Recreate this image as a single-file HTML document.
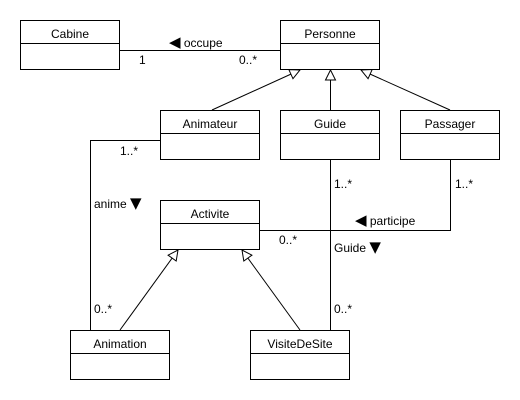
<!DOCTYPE html>
<html><head><meta charset="utf-8"><style>
html,body{margin:0;padding:0;background:#fff;width:520px;height:400px;overflow:hidden}
svg{display:block}
text{font-family:"Liberation Sans",Arial,sans-serif;font-size:12px;fill:#000}
.ar{font-family:"DejaVu Sans",sans-serif;font-size:15px}
</style></head><body>
<svg width="520" height="400" viewBox="0 0 520 400">
<defs>
<marker id="gen" viewBox="0 0 12 12" refX="11" refY="6" markerWidth="12" markerHeight="12" markerUnits="userSpaceOnUse" orient="auto">
<path d="M1,1 L11,6 L1,11 Z" fill="#fff" stroke="#000" stroke-width="1"/>
</marker>
</defs>
<g fill="#fff" stroke="#000" stroke-width="1">
<g><rect x="20.5" y="20.5" width="99" height="49"/><line x1="20.5" y1="43.5" x2="119.5" y2="43.5"/></g>
<g><rect x="280.5" y="20.5" width="99" height="49"/><line x1="280.5" y1="43.5" x2="379.5" y2="43.5"/></g>
<g><rect x="160.5" y="110.5" width="99" height="49"/><line x1="160.5" y1="133.5" x2="259.5" y2="133.5"/></g>
<g><rect x="280.5" y="110.5" width="99" height="49"/><line x1="280.5" y1="133.5" x2="379.5" y2="133.5"/></g>
<g><rect x="400.5" y="110.5" width="99" height="49"/><line x1="400.5" y1="133.5" x2="499.5" y2="133.5"/></g>
<g><rect x="160.5" y="200.5" width="99" height="49"/><line x1="160.5" y1="223.5" x2="259.5" y2="223.5"/></g>
<g><rect x="70.5" y="330.5" width="99" height="49"/><line x1="70.5" y1="353.5" x2="169.5" y2="353.5"/></g>
<g><rect x="250.5" y="330.5" width="99" height="49"/><line x1="250.5" y1="353.5" x2="349.5" y2="353.5"/></g>
</g>
<g fill="none" stroke="#000" stroke-width="1">
<line x1="119.5" y1="50.5" x2="280.5" y2="50.5"/>
<polyline points="160.5,140.5 90.5,140.5 90.5,330.5"/>
<line x1="330.5" y1="159.5" x2="330.5" y2="330.5"/>
<polyline points="450.5,159.5 450.5,230.5 259.5,230.5"/>
<line x1="212" y1="110" x2="300" y2="70" marker-end="url(#gen)"/>
<line x1="330.5" y1="110" x2="330.5" y2="70" marker-end="url(#gen)"/>
<line x1="450" y1="110" x2="361" y2="70" marker-end="url(#gen)"/>
<line x1="120" y1="330" x2="178" y2="250" marker-end="url(#gen)"/>
<line x1="300" y1="330" x2="242" y2="250" marker-end="url(#gen)"/>
</g>
<g text-anchor="middle">
<text x="70" y="38">Cabine</text>
<text x="330" y="38">Personne</text>
<text x="210" y="128">Animateur</text>
<text x="330" y="128">Guide</text>
<text x="450" y="128">Passager</text>
<text x="210" y="218">Activite</text>
<text x="120" y="348">Animation</text>
<text x="300" y="348">VisiteDeSite</text>
</g>
<text x="169" y="47"><tspan class="ar">◀</tspan> occupe</text>
<text x="139" y="64">1</text>
<text x="239" y="64">0..*</text>
<text x="120" y="155">1..*</text>
<text x="94" y="208">anime <tspan class="ar">▼</tspan></text>
<text x="94" y="313">0..*</text>
<text x="334" y="188">1..*</text>
<text x="455" y="188">1..*</text>
<text x="355" y="225"><tspan class="ar">◀</tspan> participe</text>
<text x="279" y="244">0..*</text>
<text x="334" y="252">Guide  <tspan class="ar">▼</tspan></text>
<text x="334" y="313">0..*</text>
</svg>
</body></html>
